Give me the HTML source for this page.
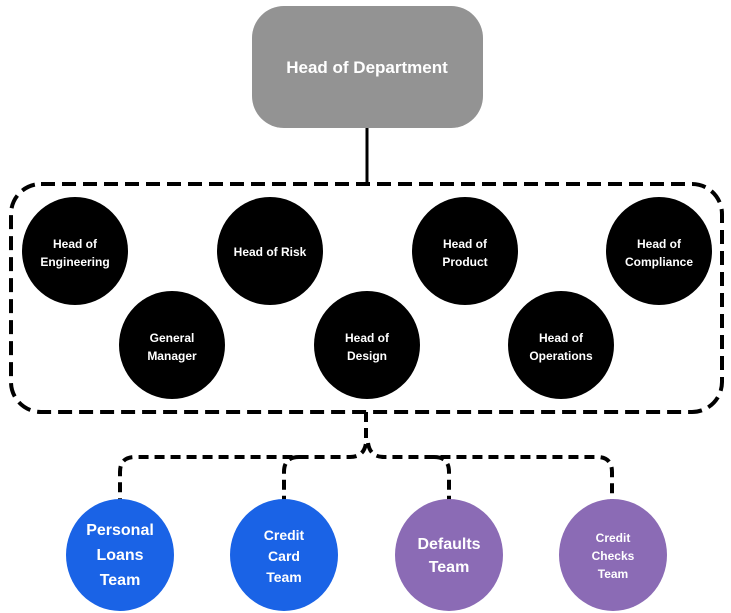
<!DOCTYPE html>
<html><head><meta charset="utf-8"><style>
html,body{margin:0;padding:0;background:#fff;}
svg{display:block;}
text{font-family:"Liberation Sans",sans-serif;font-weight:bold;fill:#fff;text-anchor:middle;}
</style></head><body>
<svg width="731" height="613" viewBox="0 0 731 613" xmlns="http://www.w3.org/2000/svg">
<rect x="252" y="6" width="231" height="122" rx="32" fill="#939393"/>
<text x="367" y="73" font-size="17">Head of Department</text>
<line x1="367" y1="128" x2="367" y2="184" stroke="#000" stroke-width="3"/>
<rect x="11" y="184" width="711" height="228" rx="30" fill="none" stroke="#000" stroke-width="4" stroke-dasharray="14,7"/>
<g fill="#000">
<ellipse cx="75" cy="251" rx="53" ry="54"/>
<ellipse cx="270" cy="251" rx="53" ry="54"/>
<ellipse cx="465" cy="251" rx="53" ry="54"/>
<ellipse cx="659" cy="251" rx="53" ry="54"/>
<ellipse cx="172" cy="345" rx="53" ry="54"/>
<ellipse cx="367" cy="345" rx="53" ry="54"/>
<ellipse cx="561" cy="345" rx="53" ry="54"/>
</g>
<g font-size="12">
<text x="75" y="248">Head of</text><text x="75" y="266">Engineering</text>
<text x="270" y="256">Head of Risk</text>
<text x="465" y="248">Head of</text><text x="465" y="266">Product</text>
<text x="659" y="248">Head of</text><text x="659" y="266">Compliance</text>
<text x="172" y="342">General</text><text x="172" y="360">Manager</text>
<text x="367" y="342">Head of</text><text x="367" y="360">Design</text>
<text x="561" y="342">Head of</text><text x="561" y="360">Operations</text>
</g>
<g fill="none" stroke="#000" stroke-width="4" stroke-dasharray="10,6">
<path d="M366 412 V443 Q364 457 350 457 H135 Q120 457 120 472 V500"/>
<path d="M299 457 Q284 457 284 472 V500"/>
<path d="M368 443 Q370 457 384 457 H597 Q612 457 612 472 V500"/>
<path d="M434 457 Q449 457 449 472 V500"/>
</g>
<ellipse cx="120" cy="555" rx="54" ry="56" fill="#1a63e6"/>
<ellipse cx="284" cy="555" rx="54" ry="56" fill="#1a63e6"/>
<ellipse cx="449" cy="555" rx="54" ry="56" fill="#8b6bb5"/>
<ellipse cx="613" cy="555" rx="54" ry="56" fill="#8b6bb5"/>
<g font-size="16">
<text x="120" y="535">Personal</text><text x="120" y="560">Loans</text><text x="120" y="585">Team</text>
</g>
<g font-size="14">
<text x="284" y="540">Credit</text><text x="284" y="561">Card</text><text x="284" y="582">Team</text>
</g>
<g font-size="16">
<text x="449" y="549">Defaults</text><text x="449" y="572">Team</text>
</g>
<g font-size="12">
<text x="613" y="542">Credit</text><text x="613" y="560">Checks</text><text x="613" y="578">Team</text>
</g>
</svg>
</body></html>
